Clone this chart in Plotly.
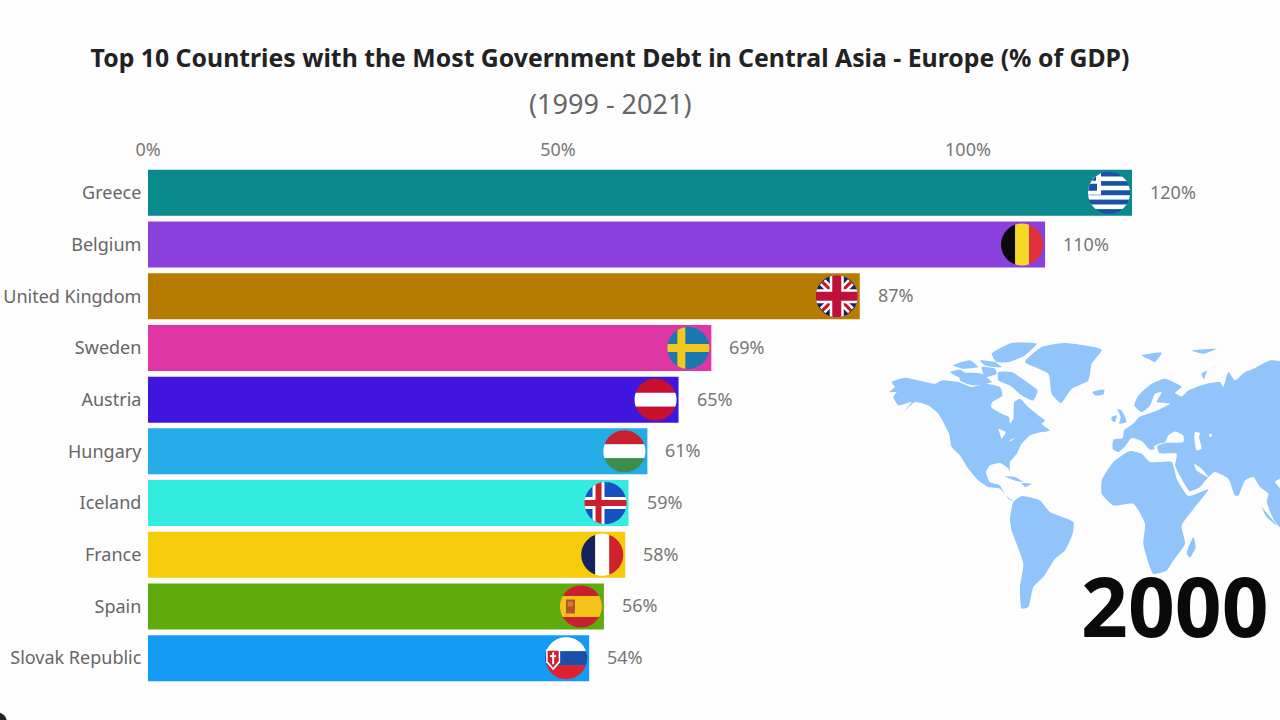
import math
import plotly.graph_objects as go

# ---------- chart data ----------
countries = ["Greece", "Belgium", "United Kingdom", "Sweden", "Austria",
             "Hungary", "Iceland", "France", "Spain", "Slovak Republic"]
debt_pct = [120.0, 109.4, 86.8, 68.7, 64.7, 60.9, 58.6, 58.2, 55.6, 53.8]
value_labels = ["120%", "110%", "87%", "69%", "65%", "61%", "59%", "58%", "56%", "54%"]
bar_colors = ["#0A8A8C", "#8B3FDB", "#B77B00", "#DE37A5", "#4015DE",
              "#25ACE6", "#34EBE0", "#F6CB0A", "#5FAB0E", "#149CF5"]
x_ticks = [0, 50, 100]
x_tick_labels = ["0%", "50%", "100%"]
title_text = "Top 10 Countries with the Most Government Debt in Central Asia - Europe (% of GDP)"
subtitle_text = "(1999 - 2021)"
year_text = "2000"

# ---------- map outlines (decorative backdrop), traced in zoom frames ----------
NORTH = [
    [(20,125),(60,112),(150,130),(170,120),(220,125),(260,140),(300,130),(345,140),(352,165),(322,185),(318,200),(350,220),(372,230),(375,250),(385,235),(388,185),(405,175),(430,200),(460,225),(480,240),(470,250),(495,270),(470,275),(435,285),(410,310),(395,340),(375,365),(375,395),(385,420),(370,385),(345,368),(315,375),(303,395),(315,425),(345,435),(362,465),(390,485),(370,475),(345,445),(310,440),(280,420),(250,385),(225,345),(200,320),(192,280),(160,220),(130,195),(90,185),(55,215),(80,185),(40,195),(25,170),(35,155),(12,155),(30,140)],
    [(195,95),(225,88),(250,105),(225,112)],
    [(225,100),(290,100),(320,125),(265,135),(225,120)],
    [(205,75),(255,60),(280,80),(235,85)],
    [(290,80),(330,85),(335,100),(300,110)],
    [(340,95),(380,95),(440,135),(458,150),(445,180),(410,165),(375,135),(340,120)],
    [(320,40),(380,8),(455,10),(420,45),(370,65),(335,65)],
    [(285,60),(330,65),(350,80),(300,75)],
    [(420,65),(470,20),(540,8),(650,28),(620,70),(610,120),(560,145),(528,188),(500,160),(490,100)],
    [(622,155),(658,148),(655,162),(630,165)],
    [(360,408),(390,410),(415,425),(390,420)],
    [(410,428),(440,430),(420,440)],
]
NORTH_WATER = [
    [(340,265),(362,275),(350,295),(345,280)],
    [(375,300),(395,290),(372,305)],
    [(232,365),(260,410),(240,385)],
]
SOUTH = [
    [(400,515),(425,497),(480,510),(510,545),(580,575),(578,610),(555,660),(525,685),(490,740),(460,770),(445,830),(425,835),(420,770),(430,700),(395,600),(390,565)],
    [(665,450),(700,395),(750,362),(785,370),(810,395),(875,395),(890,445),(925,497),(985,477),(945,530),(905,585),(915,640),(880,690),(860,720),(820,730),(790,640),(795,580),(760,520),(700,525),(665,490)],
    [(940,620),(947,650),(930,682),(920,670)],
]
EURASIA = [
    [(38,235),(40,208),(68,203),(72,180),(100,160),(118,140),(160,125),(210,100),(170,95),(185,65),(165,70),(150,105),(125,125),(103,105),(115,75),(155,40),(195,25),(245,50),(225,68),(245,78),(265,60),(320,40),(360,35),(370,50),(385,5),(405,30),(435,5),(460,-5),(510,-30),(560,-20),(560,325),(540,325),(525,335),(540,355),(540,470),(525,455),(500,395),(505,370),(480,350),(460,320),(435,330),(415,375),(405,375),(385,325),(345,305),(325,320),(300,350),(270,362),(225,285),(228,270),(230,250),(178,248),(172,228),(195,218),(250,215),(250,195),(225,183),(205,195),(195,215),(172,222),(160,228),(130,195),(165,235),(150,238),(125,212),(95,203),(75,228),(55,245)],
    [(52,115),(65,120),(80,155),(58,160),(62,140)],
    [(35,140),(50,135),(45,155),(35,150)],
    [(125,-45),(185,-53),(165,-25),(145,-35)],
    [(275,-60),(350,-65),(310,-50)],
    [(305,10),(365,-20),(322,0),(312,27)],
    [(485,410),(530,465),(500,440)],
]
EURASIA_WATER = [
    [(285,185),(300,188),(297,200),(305,235),(290,240),(283,205)],
    [(328,190),(336,192),(334,200),(329,198)],
    [(282,280),(290,300),(325,320),(305,295)],
]

def from_frame(polys, ox, oy):
    xs, ys = [], []
    for p in polys:
        xs += [ox + a / 3 for a, _ in p] + [ox + p[0][0] / 3, None]
        ys += [oy + b / 3 for _, b in p] + [oy + p[0][1] / 3, None]
    return xs, ys

# ---------- flags (pixel sized, anchored to each bar end) ----------
R = 21
CX = -23
def clip_rect(x0, x1, y0, y1):
    pts = []
    for i in range(72):
        a = 2 * math.pi * i / 72
        pts.append((min(max(R * math.cos(a), x0), x1), min(max(R * math.sin(a), y0), y1)))
    return pts
def to_path(pts):
    return "M" + "L".join(f"{CX + x:.2f},{y:.2f}" for x, y in pts) + "Z"
def rect(x0, x1, y0, y1):
    return to_path(clip_rect(x0, x1, y0, y1))
def hstripes(cols):
    n = len(cols)
    h = 2 * R / n
    return [(rect(-R, R, R - (i + 1) * h, R - i * h), c) for i, c in enumerate(cols)]
def vstripes(cols):
    n = len(cols)
    w = 2 * R / n
    return [(rect(-R + i * w, -R + (i + 1) * w, -R, R), c) for i, c in enumerate(cols)]
def diag(sign, w, c):
    k = 20 * 0.707
    d = w * 0.707
    return (to_path([(-k - d, -sign * k + sign * d), (-k + d, -sign * k - sign * d),
                     (k + d, sign * k - sign * d), (k - d, sign * k + sign * d)]), c)

flags = {
    "Greece": hstripes(["#1B4FA8", "#FFFFFF", "#1B4FA8", "#FFFFFF", "#1B4FA8", "#FFFFFF", "#1B4FA8", "#FFFFFF", "#1B4FA8"])
              + [(rect(-R, -8, -2, R), "#FFFFFF"), (rect(-R, -12, 2, 9), "#1B4FA8"), (rect(-21, -13, 12, 20), "#1B4FA8")],
    "Belgium": vstripes(["#0A0A0A", "#F6D928", "#E0303A"]),
    "United Kingdom": [(rect(-R, R, -R, R), "#14235E"), diag(1, 4, "#FFFFFF"), diag(-1, 4, "#FFFFFF"),
                       diag(1, 1.5, "#C8102E"), diag(-1, 1.5, "#C8102E"),
                       (rect(-R, R, -7, 7), "#FFFFFF"), (rect(-7, 7, -R, R), "#FFFFFF"),
                       (rect(-R, R, -4.5, 4.5), "#C0103A"), (rect(-4.5, 4.5, -R, R), "#C0103A")],
    "Sweden": [(rect(-R, R, -R, R), "#1B78AE"), (rect(-R, R, -4, 4), "#F2C81E"), (rect(-11, -3, -R, R), "#F2C81E")],
    "Austria": hstripes(["#C8102E", "#FFFFFF", "#C8102E"]),
    "Hungary": hstripes(["#C8202E", "#FFFFFF", "#3C8F4A"]),
    "Iceland": [(rect(-R, R, -R, R), "#1750C0"), (rect(-R, R, -6, 6), "#FFFFFF"), (rect(-13, -1, -R, R), "#FFFFFF"),
                (rect(-R, R, -3, 3), "#C8202E"), (rect(-10, -4, -R, R), "#C8202E")],
    "France": vstripes(["#14235E", "#FFFFFF", "#D0212E"]),
    "Spain": [(rect(-R, R, -R, R), "#C8202E"), (rect(-R, R, -10.5, 10.5), "#F6C418"),
              (rect(-15, -6, -7, 7), "#B0562A"), (rect(-13, -8, 0, 5), "#D08030")],
    "Slovak Republic": hstripes(["#FFFFFF", "#1B4FA8", "#E0202E"])
              + [(to_path([(-20, 9), (-6, 9), (-6, -4), (-13, -12), (-20, -4)]), "#FFFFFF"),
                 (to_path([(-18.5, 7.5), (-7.5, 7.5), (-7.5, -3), (-13, -9.5), (-18.5, -3)]), "#D0202E"),
                 (rect(-14, -12, -6, 6), "#FFFFFF"), (rect(-16, -10, 1, 3), "#FFFFFF")],
}

# ---------- figure ----------
L, T, B = 148, 166.6, 683.6
PX_PER_PCT = 8.2
x_max = (1280 - L) / PX_PER_PCT
BG = "#FDFDFD"
MAP = "#90C4FB"
def paper_x(px): return (px - L) / (1280 - L)
def paper_y(py): return (B - py) / (B - T)

fig = go.Figure()
fig.add_trace(go.Bar(x=debt_pct, y=countries, orientation="h",
                     marker=dict(color=bar_colors, line=dict(width=0)),
                     hoverinfo="skip", showlegend=False))

layers = [(NORTH, 885, 340, MAP), (SOUTH, 880, 330, MAP), (EURASIA, 1100, 370, MAP),
          (NORTH_WATER, 885, 340, BG), (EURASIA_WATER, 1100, 370, BG)]
for polys, ox, oy, col in layers:
    xs, ys = from_frame(polys, ox, oy)
    fig.add_trace(go.Scatter(x=xs, y=ys, xaxis="x2", yaxis="y2", mode="lines", fill="toself",
                             fillcolor=col, line=dict(width=0, color=col, shape="spline", smoothing=0.5),
                             hoverinfo="skip", showlegend=False))

shapes = []
for name, val in zip(countries, debt_pct):
    for path, col in flags[name]:
        shapes.append(dict(type="path", path=path, xref="x", yref="y",
                           xsizemode="pixel", ysizemode="pixel",
                           xanchor=val, yanchor=name,
                           fillcolor=col, line=dict(width=0)))
shapes.append(dict(type="circle", xref="paper", yref="paper",
                   x0=paper_x(-13), x1=paper_x(7), y0=paper_y(732), y1=paper_y(712),
                   fillcolor="#222222", line=dict(width=0)))

annotations = [
    dict(x=v, y=c, xref="x", yref="y", text=t, showarrow=False, xanchor="left",
         xshift=16, yshift=1, font=dict(family="Noto Sans", size=18, color="#777777"))
    for v, c, t in zip(debt_pct, countries, value_labels)
]
annotations.append(dict(x=paper_x(610), y=paper_y(103), xref="paper", yref="paper",
                        text=subtitle_text, showarrow=False, xanchor="center", yanchor="middle",
                        font=dict(family="Noto Sans", size=27, color="#666666")))
annotations.append(dict(x=paper_x(1175), y=paper_y(605), xref="paper", yref="paper",
                        text=year_text, showarrow=False, xanchor="center", yanchor="middle",
                        font=dict(family="Noto Sans", size=82, color="#0A0A0A", weight="bold")))

fig.update_layout(
    width=1280, height=720, autosize=False,
    margin=dict(l=L, r=0, t=T, b=720 - B, pad=0),
    paper_bgcolor=BG, plot_bgcolor=BG,
    bargap=0.11, showlegend=False,
    title=dict(text=title_text, x=610 / 1280, xanchor="center", y=1 - 58 / 720, yanchor="middle",
               font=dict(family="Noto Sans", size=24.8, color="#222222", weight="bold")),
    xaxis=dict(range=[0, x_max], side="top", tickvals=x_ticks, ticktext=x_tick_labels,
               showgrid=False, zeroline=False, showline=False,
               ticks="outside", ticklen=3, tickcolor="rgba(0,0,0,0)",
               tickfont=dict(family="Noto Sans", size=18, color="#777777"), fixedrange=True),
    yaxis=dict(categoryorder="array", categoryarray=countries, autorange="reversed",
               showgrid=False, zeroline=False, showline=False, ticks="outside", ticklen=2,
               tickcolor="rgba(0,0,0,0)",
               tickfont=dict(family="Noto Sans", size=18, color="#666666"), fixedrange=True),
    xaxis2=dict(range=[L, 1280], overlaying="x", visible=False, fixedrange=True),
    yaxis2=dict(range=[B, T], overlaying="y", visible=False, fixedrange=True),
    shapes=shapes, annotations=annotations,
)
fig.write_html("out.html", post_script="document.body.style.margin='0';document.body.style.overflow='hidden';",
               config=dict(displayModeBar=False))
